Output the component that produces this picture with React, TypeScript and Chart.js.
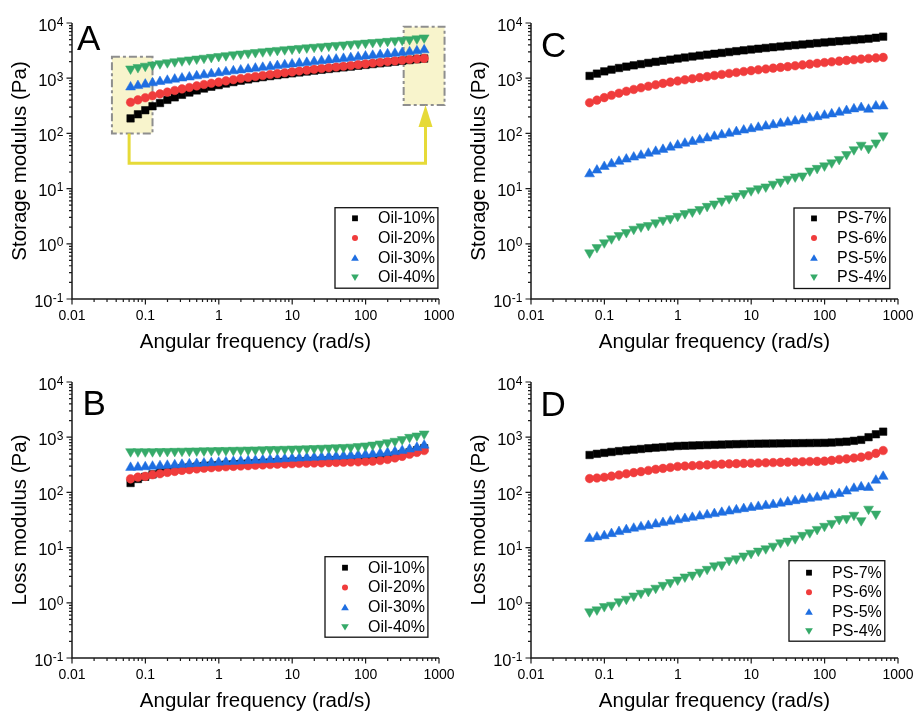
import React, { useEffect, useRef } from 'react';
import { Chart, registerables } from 'chart.js';

Chart.register(...registerables);

const FONT = "'Liberation Sans', Arial, Helvetica, sans-serif";

// Angular frequency (rad/s)
const FREQ = [0.0628, 0.0791, 0.0996, 0.125, 0.158, 0.199, 0.251, 0.315, 0.397, 0.5, 0.628, 0.791, 0.996, 1.25, 1.58, 1.99, 2.51, 3.15, 3.97, 5.0, 6.28, 7.91, 9.96, 12.5, 15.8, 19.9, 25.1, 31.5, 39.7, 50.0, 62.8, 79.1, 99.6, 125, 158, 199, 251, 315, 397, 500, 628];

const OIL_LABELS = ['Oil-10%', 'Oil-20%', 'Oil-30%', 'Oil-40%'];
const PS_LABELS = ['PS-7%', 'PS-6%', 'PS-5%', 'PS-4%'];

// Panel A: storage modulus, oil series
const A_OIL10 = [187, 222, 263, 310, 355, 405, 450, 500, 550, 600, 650, 700, 750, 800, 850, 900, 950, 1000, 1045, 1090, 1135, 1180, 1225, 1270, 1320, 1370, 1420, 1470, 1520, 1570, 1620, 1680, 1740, 1800, 1860, 1920, 1990, 2060, 2130, 2200, 2270];
const A_OIL20 = [366, 405, 443, 480, 520, 560, 600, 640, 680, 725, 770, 810, 850, 895, 940, 985, 1030, 1075, 1120, 1165, 1210, 1255, 1300, 1350, 1400, 1450, 1500, 1550, 1600, 1650, 1700, 1760, 1820, 1880, 1940, 2000, 2060, 2120, 2180, 2240, 2290];
const A_OIL30 = [690, 730, 775, 820, 865, 910, 955, 1000, 1045, 1095, 1145, 1200, 1250, 1300, 1350, 1400, 1455, 1510, 1565, 1620, 1680, 1740, 1800, 1860, 1920, 1990, 2060, 2130, 2200, 2270, 2340, 2420, 2500, 2580, 2660, 2740, 2820, 2910, 3000, 3110, 3240];
const A_OIL40 = [1480, 1570, 1660, 1750, 1840, 1920, 2000, 2080, 2160, 2240, 2320, 2400, 2490, 2580, 2670, 2760, 2850, 2940, 3030, 3120, 3210, 3300, 3390, 3480, 3570, 3660, 3750, 3840, 3940, 4040, 4140, 4240, 4350, 4460, 4570, 4680, 4790, 4900, 5020, 5200, 5400];

// Panel B: loss modulus, oil series
const B_OIL10 = [148, 175, 192, 212, 232, 250, 262, 274, 285, 293, 300, 307, 313, 318, 323, 328, 333, 338, 343, 348, 353, 357, 361, 365, 369, 373, 377, 381, 385, 389, 393, 397, 402, 410, 422, 440, 465, 495, 535, 580, 630];
const B_OIL20 = [176, 189, 195, 209, 218, 230, 240, 251, 258, 266, 274, 280, 286, 291, 296, 300, 305, 310, 315, 320, 325, 328, 331, 334, 337, 340, 343, 346, 349, 352, 355, 358, 362, 368, 378, 395, 420, 450, 490, 530, 573];
const B_OIL30 = [282, 285, 290, 296, 302, 308, 314, 320, 326, 332, 338, 344, 350, 356, 362, 368, 374, 380, 386, 392, 398, 405, 412, 418, 424, 430, 436, 442, 449, 456, 463, 472, 482, 494, 508, 524, 545, 572, 605, 650, 712];
const B_OIL40 = [550, 548, 548, 550, 552, 555, 558, 561, 564, 567, 570, 573, 576, 579, 582, 585, 588, 592, 596, 600, 604, 608, 612, 617, 622, 628, 634, 641, 648, 656, 665, 680, 700, 725, 760, 800, 850, 910, 1000, 1060, 1150];

// Panel C: storage modulus, PS series
const C_PS7 = [1100, 1210, 1330, 1430, 1530, 1620, 1710, 1800, 1890, 1980, 2070, 2170, 2270, 2370, 2470, 2570, 2670, 2770, 2870, 2980, 3090, 3200, 3310, 3420, 3530, 3640, 3750, 3860, 3970, 4080, 4200, 4320, 4440, 4560, 4680, 4800, 4930, 5060, 5200, 5400, 5660];
const C_PS6 = [360, 400, 445, 490, 535, 580, 625, 670, 715, 760, 805, 850, 890, 935, 980, 1025, 1070, 1120, 1170, 1220, 1270, 1320, 1370, 1420, 1470, 1520, 1570, 1620, 1680, 1740, 1800, 1860, 1920, 1980, 2040, 2100, 2160, 2220, 2280, 2330, 2380];
const C_PS5 = [18.4, 21.5, 25, 28, 31, 34, 37, 40, 43.5, 47, 51, 56, 61, 66, 71, 76, 82, 88, 94, 100, 107, 114, 121, 128, 135, 143, 151, 159, 167, 176, 190, 200, 212, 224, 240, 258, 276, 292, 272, 312, 312];
const C_PS4 = [0.69, 0.86, 1.05, 1.24, 1.42, 1.61, 1.85, 2.04, 2.16, 2.42, 2.69, 2.88, 3.17, 3.55, 3.8, 4.2, 4.8, 5.3, 6.0, 6.6, 7.4, 8.2, 9.2, 10, 10.8, 12.1, 13.3, 14.9, 16.4, 17.1, 21, 23.4, 26, 29.5, 34, 41.7, 51, 61.6, 53.7, 67.6, 91];

// Panel D: loss modulus, PS series
const D_PS7 = [476, 500, 520, 540, 560, 577, 595, 612, 630, 646, 660, 677, 693, 700, 707, 714, 721, 728, 735, 742, 748, 754, 760, 763, 766, 769, 772, 775, 778, 781, 784, 787, 790, 800, 815, 830, 860, 895, 1000, 1130, 1260];
const D_PS6 = [178, 182, 188, 197, 207, 218, 228, 238, 250, 262, 272, 283, 295, 300, 305, 310, 315, 320, 325, 329, 332, 335, 338, 341, 344, 347, 350, 353, 356, 359, 362, 365, 368, 380, 395, 405, 420, 435, 460, 510, 573];
const D_PS5 = [14.6, 15.5, 16.3, 17.8, 19.4, 21, 22.3, 23.6, 25, 26.6, 28.2, 29.9, 31.7, 33.4, 35.1, 37, 39, 41, 43.2, 45.6, 48, 50.5, 53, 55.3, 57.6, 60, 63.3, 66.8, 70.3, 74, 77.5, 81, 85, 90, 95, 105, 118, 125, 122, 165, 194];
const D_PS4 = [0.69, 0.75, 0.86, 0.91, 1.05, 1.17, 1.34, 1.5, 1.62, 1.85, 2.09, 2.34, 2.61, 2.96, 3.2, 3.6, 4.07, 4.7, 4.9, 5.9, 6.3, 7.1, 7.9, 8.7, 9.6, 10.7, 12.3, 13.2, 14.6, 16.8, 18.7, 21.5, 24.5, 27.6, 32.7, 33.8, 38.9, 31, 50, 40.7, null];

// Axis ticks
const X_MIN = 0.01;
const X_MAX = 1000;
const Y_MIN = 0.1;
const Y_MAX = 10000;
const X_TICK_VALUES = [0.01, 0.1, 1, 10, 100, 1000];
const X_TICK_LABELS = ['0.01', '0.1', '1', '10', '100', '1000'];
const Y_TICK_EXPONENTS = [-1, 0, 1, 2, 3, 4];
const Y_TICK_EXP_LABELS = ['-1', '0', '1', '2', '3', '4'];
const X_TITLE = 'Angular frequency (rad/s)';

// Panel A highlight annotation (data units)
const HIGHLIGHT_BOXES = [
  { x0: 0.035, x1: 0.125, y0: 100, y1: 2450 },
  { x0: 330, x1: 1190, y0: 327, y1: 8570 },
];
const ARROW_ROUTE = [
  [0.06, 100],
  [0.06, 28.7],
  [655, 28.7],
  [655, 327],
];

const MARKERS = [
  { style: 'rect', rotation: 0, radius: 5.3, color: '#000000', legend: 5.8 },
  { style: 'circle', rotation: 0, radius: 4.3, color: '#F03C3C', legend: 6 },
  { style: 'triangle', rotation: 0, radius: 5.7, color: '#1E6EE1', legend: 7 },
  { style: 'triangle', rotation: 180, radius: 5.7, color: '#36AA69', legend: 7 },
];

const W = 459;
const H = 359;
const PAD = { left: 72, top: 23, right: 20, bottom: 60 };

type PanelCfg = {
  key: string;
  left: number;
  top: number;
  yTitle: string;
  names: string[];
  series: (number | null)[][];
  letterDx: number;
  letterBase: number;
  legend: { left: number; top: number; firstRow: number; rowGap: number };
  overlay: boolean;
};

const PANELS: PanelCfg[] = [
  { key: 'A', left: 0, top: 0, yTitle: 'Storage modulus (Pa)', names: OIL_LABELS, series: [A_OIL10, A_OIL20, A_OIL30, A_OIL40], letterDx: 5, letterBase: 27, legend: { left: 335, top: 207.7, firstRow: 10.6, rowGap: 19.7 }, overlay: true },
  { key: 'C', left: 459, top: 0, yTitle: 'Storage modulus (Pa)', names: PS_LABELS, series: [C_PS7, C_PS6, C_PS5, C_PS4], letterDx: 10, letterBase: 34, legend: { left: 335, top: 208, firstRow: 10.4, rowGap: 19.7 }, overlay: false },
  { key: 'B', left: 0, top: 359, yTitle: 'Loss modulus (Pa)', names: OIL_LABELS, series: [B_OIL10, B_OIL20, B_OIL30, B_OIL40], letterDx: 10.5, letterBase: 33, legend: { left: 325, top: 197.7, firstRow: 11, rowGap: 19.8 }, overlay: false },
  { key: 'D', left: 459, top: 359, yTitle: 'Loss modulus (Pa)', names: PS_LABELS, series: [D_PS7, D_PS6, D_PS5, D_PS4], letterDx: 9.5, letterBase: 34, legend: { left: 330, top: 201.7, firstRow: 12, rowGap: 19.5 }, overlay: false },
];

function drawMarker(ctx: CanvasRenderingContext2D, idx: number, x: number, y: number) {
  const m = MARKERS[idx];
  const s = m.legend;
  ctx.fillStyle = m.color;
  ctx.beginPath();
  if (m.style === 'rect') {
    ctx.rect(x - s / 2, y - s / 2, s, s);
  } else if (m.style === 'circle') {
    ctx.arc(x, y, s / 2, 0, Math.PI * 2);
  } else if (m.rotation === 0) {
    ctx.moveTo(x, y - s * 0.5);
    ctx.lineTo(x + s * 0.55, y + s * 0.42);
    ctx.lineTo(x - s * 0.55, y + s * 0.42);
    ctx.closePath();
  } else {
    ctx.moveTo(x, y + s * 0.5);
    ctx.lineTo(x + s * 0.55, y - s * 0.42);
    ctx.lineTo(x - s * 0.55, y - s * 0.42);
    ctx.closePath();
  }
  ctx.fill();
}

function makeDecor(cfg: PanelCfg) {
  return {
    id: 'decor' + cfg.key,
    beforeDatasetsDraw(chart: any) {
      if (!cfg.overlay) return;
      const ctx: CanvasRenderingContext2D = chart.ctx;
      const xs = chart.scales.x;
      const ys = chart.scales.y;
      ctx.save();
      for (const b of HIGHLIGHT_BOXES) {
        const l = xs.getPixelForValue(b.x0);
        const r = xs.getPixelForValue(b.x1);
        const t = ys.getPixelForValue(b.y1);
        const bt = ys.getPixelForValue(b.y0);
        ctx.fillStyle = '#F8F4CC';
        ctx.fillRect(l, t, r - l, bt - t);
        ctx.setLineDash([8, 3, 3, 3]);
        ctx.lineWidth = 2;
        ctx.strokeStyle = '#8E8E8E';
        ctx.strokeRect(l, t, r - l, bt - t);
      }
      ctx.setLineDash([]);
      const pts = ARROW_ROUTE.map(([x, y]) => [xs.getPixelForValue(x), ys.getPixelForValue(y)]);
      const tip = pts[pts.length - 1];
      const headLen = 22;
      const headHalf = 7;
      ctx.strokeStyle = '#E6DA38';
      ctx.fillStyle = '#E6DA38';
      ctx.lineWidth = 3;
      ctx.lineJoin = 'miter';
      ctx.beginPath();
      ctx.moveTo(pts[0][0], pts[0][1]);
      for (let i = 1; i < pts.length - 1; i++) ctx.lineTo(pts[i][0], pts[i][1]);
      ctx.lineTo(tip[0], tip[1] + headLen - 1);
      ctx.stroke();
      ctx.beginPath();
      ctx.moveTo(tip[0], tip[1]);
      ctx.lineTo(tip[0] + headHalf, tip[1] + headLen);
      ctx.lineTo(tip[0] - headHalf, tip[1] + headLen);
      ctx.closePath();
      ctx.fill();
      ctx.restore();
    },
    afterDraw(chart: any) {
      const ctx: CanvasRenderingContext2D = chart.ctx;
      const xs = chart.scales.x;
      const ys = chart.scales.y;
      const { left, right, top, bottom } = chart.chartArea;
      ctx.save();
      // axis lines
      ctx.strokeStyle = '#1A1A1A';
      ctx.lineWidth = 1.5;
      ctx.beginPath();
      ctx.moveTo(left, top);
      ctx.lineTo(left, bottom);
      ctx.lineTo(right, bottom);
      ctx.stroke();
      // x ticks
      ctx.lineWidth = 1.2;
      ctx.beginPath();
      for (let e = -2; e <= 3; e++) {
        const base = Math.pow(10, e);
        const px = xs.getPixelForValue(base);
        ctx.moveTo(px, bottom);
        ctx.lineTo(px, bottom + 5.5);
        if (e < 3) {
          for (let m = 2; m <= 9; m++) {
            const p = xs.getPixelForValue(m * base);
            ctx.moveTo(p, bottom);
            ctx.lineTo(p, bottom + 3);
          }
        }
      }
      // y ticks
      for (let e = -1; e <= 4; e++) {
        const base = Math.pow(10, e);
        const py = ys.getPixelForValue(base);
        ctx.moveTo(left, py);
        ctx.lineTo(left - 5.5, py);
        if (e < 4) {
          for (let m = 2; m <= 9; m++) {
            const p = ys.getPixelForValue(m * base);
            ctx.moveTo(left, p);
            ctx.lineTo(left - 3, p);
          }
        }
      }
      ctx.stroke();
      // x tick labels
      ctx.fillStyle = '#000';
      ctx.font = `14px ${FONT}`;
      ctx.textAlign = 'center';
      ctx.textBaseline = 'alphabetic';
      X_TICK_VALUES.forEach((v, i) => {
        ctx.fillText(X_TICK_LABELS[i], xs.getPixelForValue(v), bottom + 21);
      });
      // y tick labels (10 with superscript exponent)
      Y_TICK_EXPONENTS.forEach((e, i) => {
        const py = ys.getPixelForValue(Math.pow(10, e));
        const expTxt = Y_TICK_EXP_LABELS[i];
        ctx.font = `12px ${FONT}`;
        const ew = ctx.measureText(expTxt).width;
        const ex = left - 8.5 - ew;
        ctx.textAlign = 'left';
        ctx.fillText(expTxt, ex, py + 2.5);
        ctx.font = `16.5px ${FONT}`;
        ctx.textAlign = 'right';
        ctx.fillText('10', ex - 0.3, py + 7.5);
      });
      // axis titles
      ctx.font = `20.5px ${FONT}`;
      ctx.textAlign = 'center';
      ctx.fillText(X_TITLE, (left + right) / 2, bottom + 49);
      ctx.save();
      ctx.translate(left - 46.5, (top + bottom) / 2);
      ctx.rotate(-Math.PI / 2);
      ctx.fillText(cfg.yTitle, 0, 0);
      ctx.restore();
      // panel letter
      ctx.font = `35px ${FONT}`;
      ctx.textAlign = 'left';
      ctx.fillText(cfg.key, left + cfg.letterDx, top + cfg.letterBase);
      // legend
      const lg = cfg.legend;
      ctx.font = `16px ${FONT}`;
      let tw = 0;
      cfg.names.forEach((n) => { tw = Math.max(tw, ctx.measureText(n).width); });
      const bw = 43 + tw + 3;
      const bh = 80.5;
      ctx.strokeStyle = '#111';
      ctx.lineWidth = 1.3;
      ctx.strokeRect(lg.left, lg.top, bw, bh);
      ctx.textBaseline = 'middle';
      cfg.names.forEach((n, i) => {
        const ry = lg.top + lg.firstRow + i * lg.rowGap;
        drawMarker(ctx, i, lg.left + 20, ry);
        ctx.fillStyle = '#000';
        ctx.fillText(n, lg.left + 43, ry + 0.5);
      });
      ctx.restore();
    },
  };
}

function Panel({ cfg }: { cfg: PanelCfg }) {
  const ref = useRef<HTMLCanvasElement>(null);
  useEffect(() => {
    const canvas = ref.current;
    if (!canvas) return;
    const chart = new Chart(canvas, {
      type: 'scatter',
      data: {
        datasets: cfg.series.map((vals, i) => ({
          label: cfg.names[i],
          data: FREQ.map((x, j) => ({ x, y: vals[j] })).filter((p) => p.y !== null && p.y !== undefined) as any,
          pointStyle: MARKERS[i].style as any,
          pointRotation: MARKERS[i].rotation,
          pointRadius: MARKERS[i].radius,
          pointHoverRadius: MARKERS[i].radius,
          backgroundColor: MARKERS[i].color,
          borderColor: MARKERS[i].color,
          pointBorderWidth: 0.5,
          showLine: false,
          order: cfg.series.length - i,
        })),
      },
      options: {
        animation: false,
        responsive: false,
        devicePixelRatio: 1,
        events: [],
        layout: { padding: PAD },
        scales: {
          x: { type: 'logarithmic', min: X_MIN, max: X_MAX, display: false },
          y: { type: 'logarithmic', min: Y_MIN, max: Y_MAX, display: false },
        },
        plugins: { legend: { display: false }, tooltip: { enabled: false } },
      },
      plugins: [makeDecor(cfg)],
    } as any);
    return () => chart.destroy();
  }, [cfg]);
  return (
    <canvas
      ref={ref}
      width={W}
      height={H}
      style={{ position: 'absolute', left: cfg.left, top: cfg.top, width: W, height: H }}
    />
  );
}

export default function App() {
  return (
    <div style={{ position: 'fixed', left: 0, top: 0, width: 914, height: 712, overflow: 'hidden', background: '#fff' }}>
      {PANELS.map((p) => (
        <Panel key={p.key} cfg={p} />
      ))}
    </div>
  );
}
